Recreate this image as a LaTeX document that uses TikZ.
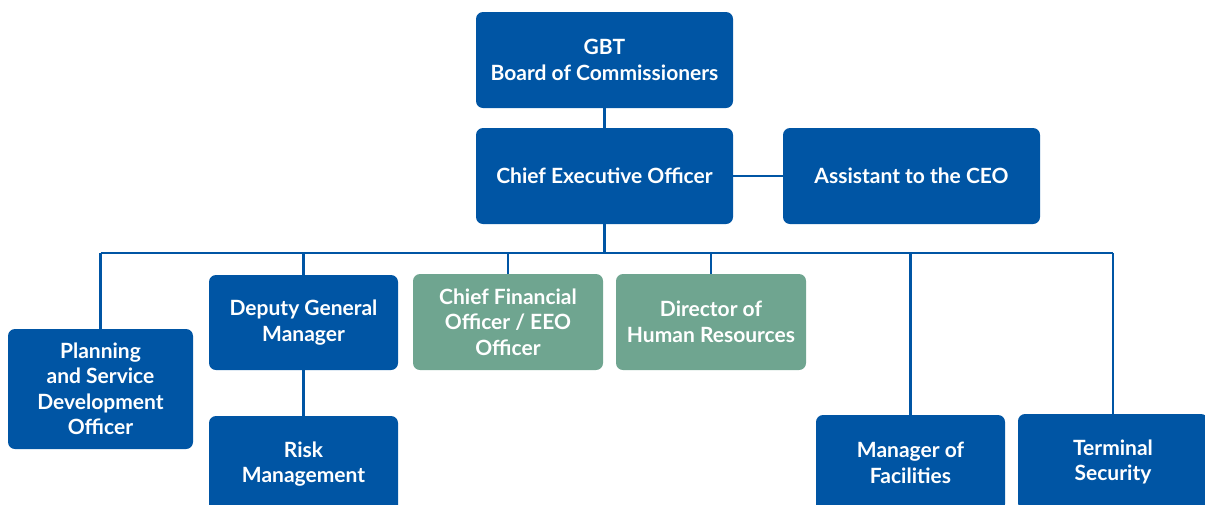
\documentclass[tikz,border=0pt]{standalone}
\usepackage{fontspec}
\setmainfont{Lato}
\definecolor{orgblue}{HTML}{0055A4}
\definecolor{orggreen}{HTML}{6FA590}
\tikzset{
  box/.style={fill=orgblue, rounded corners=7pt, text=white, align=center,
    font=\fontsize{21}{25.5}\selectfont\bfseries, inner sep=0pt},
  gbox/.style={box, fill=orggreen},
  link/.style={draw=orgblue, line width=2.6pt}
}
\begin{document}
\begin{tikzpicture}[x=1pt,y=-1pt]
\useasboundingbox (0,0) rectangle (1205,504);
\clip (0,0) rectangle (1205,504);
\node[box, minimum width=257pt, minimum height=96pt] (gbt) at (604.5,60) {GBT\\Board of Commissioners};
\node[box, minimum width=257pt, minimum height=96pt] (ceo) at (604.5,176) {Chief Executive Officer};
\node[box, minimum width=257pt, minimum height=96pt] (asst) at (911.5,176) {Assistant to the CEO};
\node[box, minimum width=185pt, minimum height=120pt] (plan) at (100.5,389) {Planning\\and Service\\Development\\Officer};
\node[box, minimum width=189pt, minimum height=95pt] (dgm) at (303.5,322.5) {Deputy General\\Manager};
\node[gbox, minimum width=190pt, minimum height=96pt] (cfo) at (508,322) {Chief Financial\\Officer / EEO\\Officer};
\node[gbox, minimum width=190pt, minimum height=96pt] (hr) at (711,322) {Director of\\Human Resources};
\node[box, minimum width=189pt, minimum height=96pt] (risk) at (303.5,464) {Risk\\Management};
\node[box, minimum width=189pt, minimum height=96pt] (mof) at (910.5,463) {Manager of\\Facilities};
\node[box, minimum width=190pt, minimum height=96pt] (ts) at (1113,462) {Terminal\\Security};
\coordinate (bus) at (0,253);
\draw[link] (gbt.south) -- (ceo.north);
\draw[link] (ceo.east) -- (asst.west);
\draw[link] (ceo.south) -- (ceo.south |- bus);
\draw[link] (plan.north |- bus) -- (ts.north |- bus);
\foreach \n in {plan,dgm,cfo,hr,mof,ts} {
  \draw[link] (\n.north |- bus) -- (\n.north);
}
\draw[link] (dgm.south) -- (risk.north);
\end{tikzpicture}
\end{document}
